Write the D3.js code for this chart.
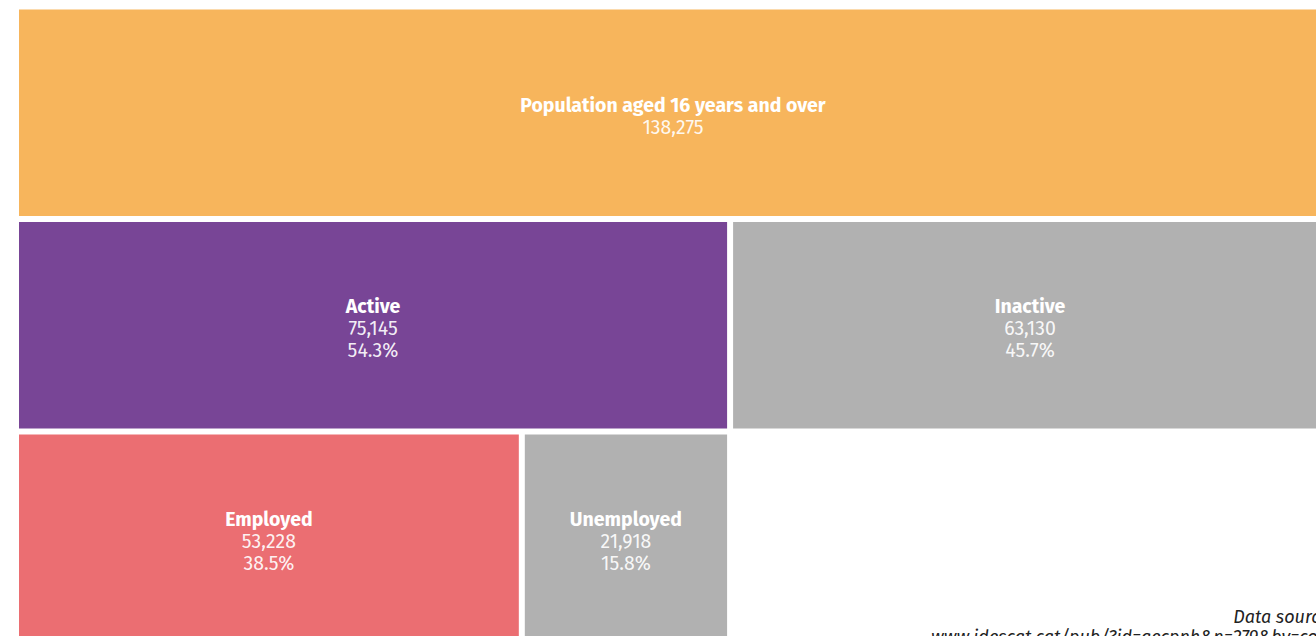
<!DOCTYPE html>
<html>
<head>
<meta charset="utf-8">
<script src="https://cdn.jsdelivr.net/npm/d3@7"></script>
<style>
  body { margin: 0; background: #fff; overflow: hidden; }
  text { font-family: "Fira Sans", Lato, "Open Sans", sans-serif; }
</style>
</head>
<body>
<script>
// Data
const names = ["Population aged 16 years and over", "Active", "Inactive", "Employed", "Unemployed"]
const parents = [null, "Population aged 16 years and over", "Population aged 16 years and over", "Active", "Active"]
const values = [138275, 75145, 63130, 53228, 21918]
const shares = [null, "54.3%", "45.7%", "38.5%", "15.8%"]
const colors = ["#f7b55c", "#784596", "#b1b1b1", "#eb6e72", "#b1b1b1"]

const margin = { top: 9.5, left: 19 }
const width = 1314
const rowH = 212.5
const gap = 6

const rows = names.map((n, i) => ({ name: n, parent: parents[i], value: values[i], share: shares[i], color: colors[i] }))

const root = d3.stratify()
  .id(d => d.name)
  .parentId(d => d.parent)(rows)

// leaves carry their own value, inner nodes are the sum of children
root.sum(d => (d.name === "Employed" || d.name === "Unemployed" || d.name === "Inactive") ? d.value : 0)

d3.partition().size([width, rowH * 3])(root)

const svg = d3.select("body")
  .append("svg")
  .attr("width", 1316)
  .attr("height", 636)

const g = svg.append("g")
  .attr("transform", `translate(${margin.left}, ${margin.top})`)

const cell = g.selectAll("g.cell")
  .data(root.descendants())
  .enter()
  .append("g")
  .attr("class", "cell")
  .attr("transform", d => `translate(${d.x0}, ${d.y0})`)

cell.append("rect")
  .attr("width", d => d.x1 - d.x0 - gap)
  .attr("height", d => d.y1 - d.y0 - gap)
  .style("fill", d => d.data.color)

const fmt = d3.format(",")
const lineH = 22

cell.each(function (d) {
  const lines = [d.data.name, fmt(d.data.value)]
  if (d.data.share) lines.push(d.data.share)
  const cx = (d.x1 - d.x0 - gap) / 2
  const cy = (d.y1 - d.y0 - gap) / 2
  const top = cy - (lines.length - 1) * lineH / 2 + 3
  const t = d3.select(this).append("text")
    .attr("text-anchor", "middle")
    .style("fill", "#fff")
    .style("font-size", "19.5px")
  lines.forEach((l, i) => {
    t.append("tspan")
      .attr("x", cx)
      .attr("y", top + i * lineH)
      .attr("dy", "0.35em")
      .style("font-weight", i === 0 ? 700 : 400)
      .style("fill-opacity", i === 0 ? 1 : 0.92)
      .text(l)
  })
})

// Source note
const note = svg.append("text")
  .attr("text-anchor", "end")
  .style("font-style", "italic")
  .style("font-size", "18px")
  .style("fill", "#222")
note.append("tspan").attr("x", 1333).attr("y", 623).text("Data source:")
note.append("tspan").attr("x", 1333).attr("y", 643).text("www.idescat.cat/pub/?id=aecpnh&n=279&by=com")
</script>
</body>
</html>
